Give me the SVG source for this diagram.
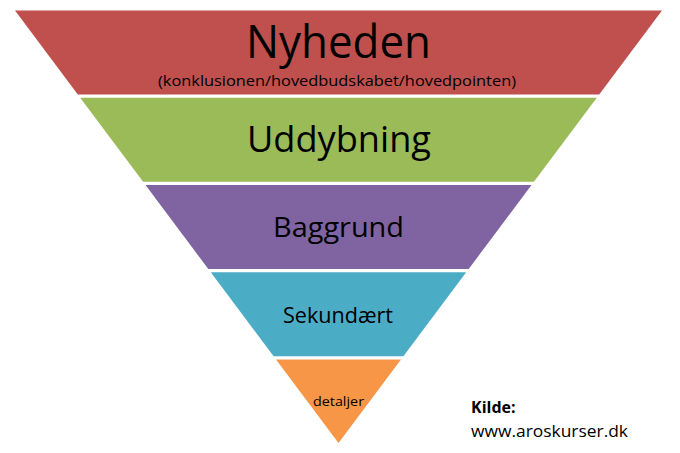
<svg xmlns="http://www.w3.org/2000/svg" width="680" height="453" viewBox="0 0 680 453">
<style>
  .t { font-family: "Open Sans", "Noto Sans", "Liberation Sans", sans-serif; fill: #000; text-anchor: middle; }
  .src { font-family: "Open Sans", "Noto Sans", "Liberation Sans", sans-serif; fill: #000; }
</style>
<rect width="680" height="453" fill="#fff"/>
<g id="nyheden">
  <polygon points="15,10.5 662,10.5 599.2,94.5 77.8,94.5" fill="#C0504D"/>
  <text class="t" x="338.5" y="58" font-size="46" textLength="185" lengthAdjust="spacingAndGlyphs">Nyheden</text>
  <text class="t" x="337" y="86" font-size="15" textLength="358" lengthAdjust="spacingAndGlyphs">(konklusionen/hovedbudskabet/hovedpointen)</text>
</g>
<g id="uddybning">
  <polygon points="80.2,97.75 596.8,97.75 533.9,181.75 143.1,181.75" fill="#9BBB59"/>
  <text class="t" x="339" y="152" font-size="36" textLength="184" lengthAdjust="spacingAndGlyphs">Uddybning</text>
</g>
<g id="baggrund">
  <polygon points="145.5,185 531.5,185 468.7,269 208.3,269" fill="#8064A2"/>
  <text class="t" x="338.5" y="237" font-size="28" textLength="131" lengthAdjust="spacingAndGlyphs">Baggrund</text>
</g>
<g id="sekundaert">
  <polygon points="210.8,272.25 466.2,272.25 403.4,356.25 273.6,356.25" fill="#4BACC6"/>
  <text class="t" x="338" y="323" font-size="22" textLength="110" lengthAdjust="spacingAndGlyphs">Sekundært</text>
</g>
<g id="detaljer">
  <polygon points="276,359.5 401,359.5 338.5,443" fill="#F79646"/>
  <text class="t" x="338.5" y="406" font-size="13" textLength="51" lengthAdjust="spacingAndGlyphs">detaljer</text>
</g>
<g id="kilde">
  <text class="src" x="471" y="413" font-size="16" font-weight="bold">Kilde:</text>
  <text class="src" x="471" y="437" font-size="16" textLength="157" lengthAdjust="spacingAndGlyphs">www.aroskurser.dk</text>
</g>
<g id="connectors"/>
</svg>
